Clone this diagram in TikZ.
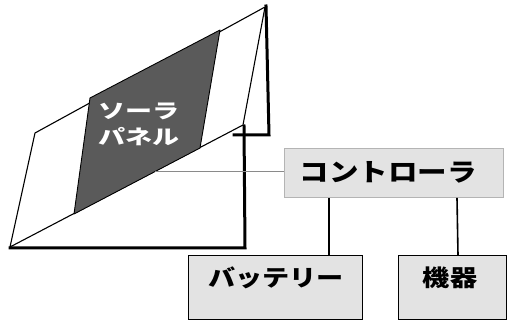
\documentclass[tikz,border=0pt]{standalone}
\usepackage{fontspec}
\newfontfamily\jp{Noto Sans CJK JP}[FakeStretch=1.18]
\newfontfamily\jpwide{Noto Sans CJK JP}[FakeStretch=1.35]
\definecolor{cellgray}{HTML}{5A5A5A}
\definecolor{boxfill}{HTML}{E3E3E3}
\definecolor{wiregray}{HTML}{8A8A8A}
\definecolor{rimgray}{HTML}{B4B4B4}
\tikzset{
  panelframe/.style={draw=black, line width=1.1pt, line join=round, fill=white},
  cellarea/.style={draw=black, line width=0.9pt, line join=round, fill=cellgray},
  standleg/.style={draw=black, line width=3pt, line cap=rect},
  unitbox/.style={rectangle, fill=boxfill, draw=black, line width=1.4pt, anchor=north west, inner sep=0pt},
  ctrlbox/.style={unitbox, draw=rimgray, line width=0.9pt},
  lbl/.style={inner sep=0pt, font=\jp\bfseries\fontsize{23}{26}\selectfont},
  wire/.style={draw=black, line width=1.6pt},
  thinwire/.style={draw=wiregray, line width=0.8pt},
}
\begin{document}
\begin{tikzpicture}[x=1pt, y=-1pt]
\useasboundingbox (0,0) rectangle (509,320);

% stand: back leg, front leg and base
\draw[standleg] (266,6) -- (269,135) -- (234,135);
\draw[standleg] (244,126) -- (245,248) -- (10,248);

% panel frame and cell area
\coordinate (pa) at (10,247);
\coordinate (pb) at (35,133);
\coordinate (pc) at (265,7);
\coordinate (pd) at (243,125);
\draw[panelframe] (pa) -- (pb) -- (pc) -- (pd) -- cycle;
\draw[cellarea] (90,98) -- (220,30) -- (200,148) -- (74,214) -- cycle;
\node[inner sep=0pt, align=center, text=white,
      font=\jpwide\bfseries\fontsize{20}{26}\selectfont] (paneltext) at (139,124) {ソーラ\\パネル};

% output point on the lower edge of the panel
\coordinate (pout) at (155,171.5);

% boxes
\node[ctrlbox, minimum width=219pt, minimum height=49pt] (ctrl) at (284,148) {};
\node[unitbox, minimum width=174pt, minimum height=64pt] (bat) at (188,255) {};
\node[unitbox, minimum width=108pt, minimum height=64pt] (dev) at (398,255) {};

\node[lbl, font=\jp\bfseries\fontsize{25}{28}\selectfont] (ctrltext) at (388,172.5) {コントローラ};
\node[lbl] (battext) at (276,277.5) {バッテリー};
\node[lbl] (devtext) at (450,277.5) {機器};

% wiring
\draw[thinwire] (pout) -- (pout -| ctrl.west);
\draw[wire] (ctrl.south -| 329,0) -- (bat.north -| 329,0);
\draw[wire] (ctrl.south -| 457,0) -- (dev.north -| 458,0);
\end{tikzpicture}
\end{document}
